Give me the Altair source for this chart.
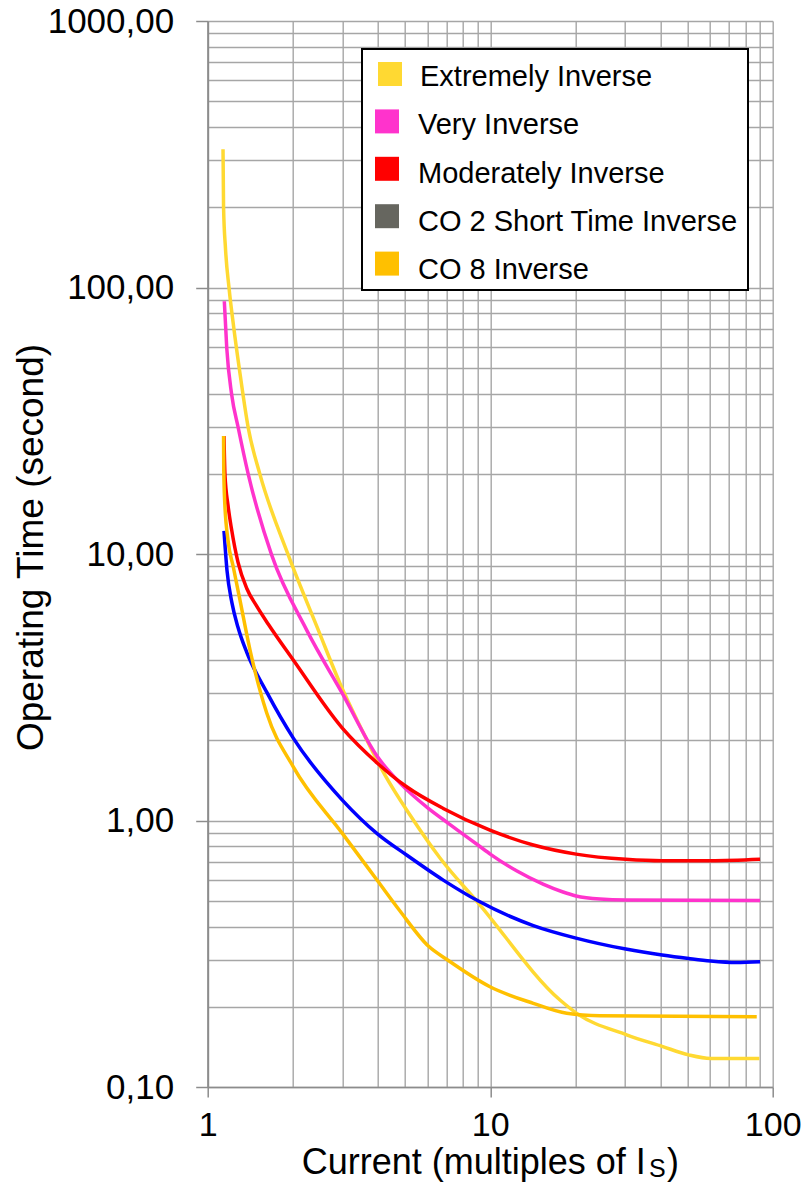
import altair as alt
import pandas as pd

# ---------------- data ----------------
ext_I = [1.133, 1.138, 1.156, 1.190, 1.237, 1.294, 1.392, 1.531, 1.929, 2.464, 2.939, 3.517, 4.243, 5.201, 6.641, 9.08, 17.66, 20.24, 30.4, 40.6, 50.4, 60.3, 89.7]
ext_t = [330, 200, 140, 99.6, 70.5, 49.6, 29.7, 19.9, 9.9, 5.18, 3.27, 2.183, 1.48, 1.048, 0.723, 0.49, 0.212, 0.189, 0.157, 0.142, 0.132, 0.128, 0.128]

vi_I = [1.145, 1.168, 1.216, 1.283, 1.392, 1.685, 2.241, 2.996, 3.998, 4.794, 6.024, 7.09, 8.01, 9.05, 10.06, 12.44, 15.38, 18.10, 20.13, 24.47, 30.25, 90.2]
vi_t = [88.8, 59.3, 39.6, 29.7, 19.9, 9.9, 5.18, 2.998, 1.729, 1.381, 1.113, 0.978, 0.889, 0.809, 0.745, 0.646, 0.577, 0.539, 0.521, 0.507, 0.503, 0.501]

mi_I = [1.142, 1.151, 1.180, 1.216, 1.28, 1.374, 1.491, 1.639, 2.009, 2.996, 3.998, 5.06, 6.82, 9.98, 14.21, 20.13, 30.2, 40.6, 60.3, 90.2]
mi_t = [27.7, 19.9, 15.24, 12.3, 9.32, 7.44, 6.37, 5.45, 4.0, 2.222, 1.637, 1.338, 1.11, 0.92, 0.809, 0.748, 0.715, 0.706, 0.706, 0.715]

co2_I = [1.142, 1.170, 1.219, 1.28, 1.374, 1.618, 2.009, 2.996, 3.998, 5.06, 6.82, 9.08, 14.21, 20.13, 30.2, 40.6, 50.4, 60.3, 74.2, 90.2]
co2_t = [12.2, 8.70, 6.54, 5.31, 4.28, 3.03, 2.038, 1.193, 0.889, 0.742, 0.5975, 0.4985, 0.4035, 0.3621, 0.3293, 0.3127, 0.3034, 0.2969, 0.2931, 0.295]

co8_I = [1.138, 1.140, 1.148, 1.180, 1.232, 1.301, 1.412, 1.618, 2.009, 2.996, 3.998, 4.794, 6.04, 7.07, 9.98, 14.21, 18.66, 24.47, 87.8]
co8_t = [27.7, 20.6, 15.9, 11.26, 8.94, 6.71, 4.36, 2.53, 1.59, 0.895, 0.5927, 0.4574, 0.338, 0.2995, 0.2378, 0.206, 0.189, 0.185, 0.1835]

series_names = ["Extremely Inverse", "Very Inverse", "Moderately Inverse",
                "CO 2 Short Time Inverse", "CO 8 Inverse"]
line_colors = ["#FFD932", "#FF33CC", "#FF0000", "#0000FF", "#FFC000"]
legend_colors = ["#FFD932", "#FF33CC", "#FF0000", "#66665F", "#FFC000"]
series_data = [(ext_I, ext_t), (vi_I, vi_t), (mi_I, mi_t), (co2_I, co2_t), (co8_I, co8_t)]

x_grid_vals = [1, 2, 3, 4, 5, 6, 7, 8, 9, 10, 20, 30, 40, 50, 60, 70, 80, 90, 100]
x_major = [1, 10, 100]
x_major_labels = ["1", "10", "100"]

y_grid_vals = [0.1, 0.2, 0.3, 0.4, 0.5, 0.6, 0.7, 0.8, 0.9,
               1, 2, 3, 4, 5, 6, 7, 8, 9,
               10, 20, 30, 40, 50, 60, 70, 80, 90,
               100, 200, 300, 400, 500, 600, 700, 800, 900, 1000]
y_major = [0.1, 1, 10, 100, 1000]
y_major_labels = ["0,10", "1,00", "10,00", "100,00", "1000,00"]

# ---------------- layout ----------------
LEFT, TOP = 207.7, 21
W, H = 565, 1066
FONT = "Liberation Sans"
GRID = "#a6a6a6"
AXC = "#8c8c8c"


def label_expr(vals, labels):
    expr = "''"
    for v, l in reversed(list(zip(vals, labels))):
        expr = f"datum.value == {v} ? '{l}' : ({expr})"
    return expr


def major_test(vals):
    return "indexof([" + ",".join(str(v) for v in vals) + "], datum.value) >= 0"


x_scale = alt.Scale(type="log", domain=[1, 100], nice=False)
y_scale = alt.Scale(type="log", domain=[0.1, 1000], nice=False)

x_axis = alt.Axis(
    values=x_grid_vals, labelExpr=label_expr(x_major, x_major_labels), title=None,
    grid=True, gridColor=GRID, gridWidth=1.4,
    tickSize=10, tickWidth=1.5, tickColor=AXC,
    tickOpacity={"condition": {"test": major_test(x_major), "value": 1}, "value": 0},
    domainColor=AXC, domainWidth=1.5,
    labelFont=FONT, labelFontSize=34, labelColor="#000000", labelPadding=11,
    labelFlush=False, labelOverlap=False, labelBaseline="top",
)
y_axis = alt.Axis(
    values=y_grid_vals, labelExpr=label_expr(y_major, y_major_labels),
    title="Operating Time (second)", titleFont=FONT, titleFontSize=37,
    titleFontWeight="normal", titleColor="#000000", titleAngle=270,
    titleBaseline="alphabetic", titleAlign="center", titleX=-165, titleY=526,
    grid=True, gridColor=GRID, gridWidth=1.4,
    tickSize=12, tickWidth=1.5, tickColor=AXC,
    tickOpacity={"condition": {"test": major_test(y_major), "value": 1}, "value": 0},
    domainColor=AXC, domainWidth=2,
    labelFont=FONT, labelFontSize=35, labelColor="#000000", labelPadding=22,
    labelFlush=False, labelOverlap=False,
)

layers = []
for name, (xs, ys), col in zip(series_names, series_data, line_colors):
    df = pd.DataFrame({"I": xs, "t": ys, "k": range(len(xs)), "series": name})
    layers.append(
        alt.Chart(df).mark_line(color=col, strokeWidth=3.5, interpolate="monotone").encode(
            x=alt.X("I:Q", scale=x_scale, axis=x_axis),
            y=alt.Y("t:Q", scale=y_scale, axis=y_axis),
            order="k:Q",
        )
    )

one = pd.DataFrame({"a": [0]})

# legend box
layers.append(
    alt.Chart(one).mark_rect(fill="white", stroke="#000000", strokeWidth=2).encode(
        x=alt.value(362 - LEFT), x2=alt.value(748 - LEFT),
        y=alt.value(49 - TOP), y2=alt.value(290 - TOP),
    )
)
for i, (name, col) in enumerate(zip(series_names, legend_colors)):
    cy = 74 + 47.4 * i - TOP
    cx = (390 if i == 0 else 387) - LEFT
    layers.append(
        alt.Chart(one).mark_rect(fill=col).encode(
            x=alt.value(cx - 12), x2=alt.value(cx + 12),
            y=alt.value(cy - 12), y2=alt.value(cy + 12),
        )
    )
    tx = (420 if i == 0 else 418) - LEFT
    ty = 85.7 + 48.4 * i - TOP
    layers.append(
        alt.Chart(one).mark_text(align="left", baseline="alphabetic", font=FONT,
                                 fontSize=29, color="#000000").encode(
            x=alt.value(tx), y=alt.value(ty), text=alt.value(name)
        )
    )

# x-axis title with subscript
x_title_parts = [("Current (multiples of I", 36, 301.7, 1174), ("S", 25, 649, 1177), (")", 36, 667, 1174)]
for txt, fs, px, py in x_title_parts:
    layers.append(
        alt.Chart(one).mark_text(align="left", baseline="alphabetic", font=FONT,
                                 fontSize=fs, color="#000000").encode(
            x=alt.value(px - LEFT), y=alt.value(py - TOP), text=alt.value(txt)
        )
    )

chart = alt.layer(*layers).properties(
    width=W, height=H,
    autosize=alt.AutoSizeParams(type="none"),
    padding={"left": LEFT, "top": TOP, "right": 808 - LEFT - W, "bottom": 1182 - TOP - H},
    background="white",
).configure_view(strokeWidth=0)

chart.save("out.html", embed_options={"renderer": "svg", "actions": False})
